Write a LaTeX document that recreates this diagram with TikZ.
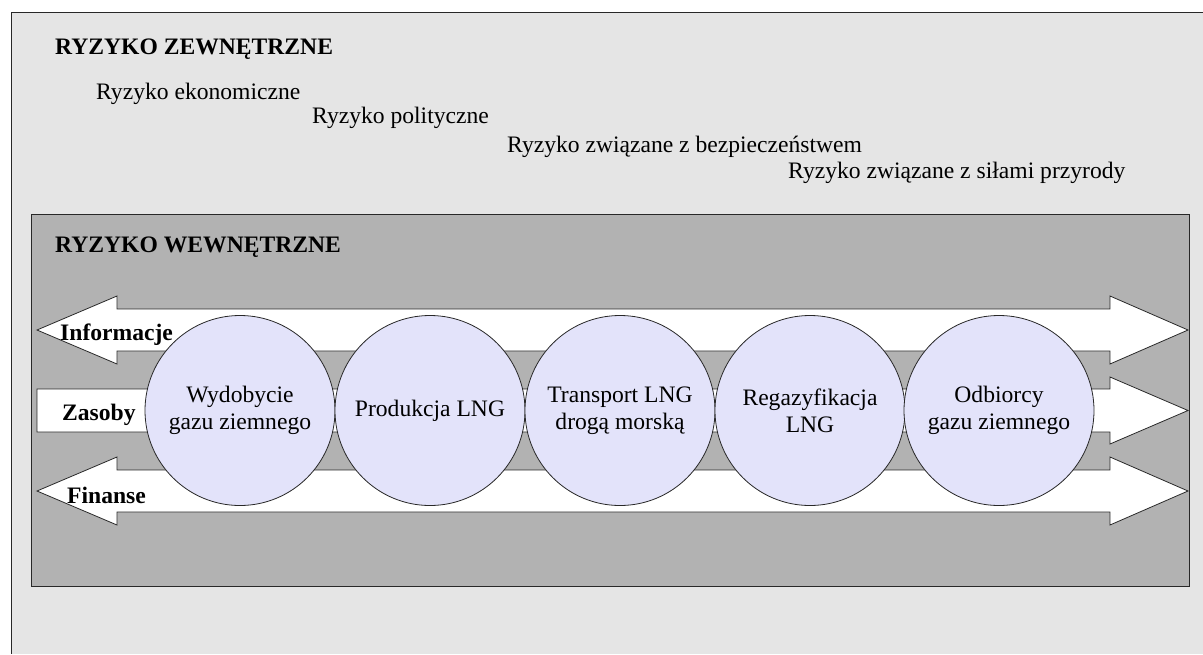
\documentclass[tikz,border=0pt]{standalone}
\usepackage{fontspec}
\setmainfont{Liberation Serif}
\usepackage{tikz}

\definecolor{outergray}{RGB}{229,229,229}
\definecolor{innergray}{RGB}{178,178,178}
\definecolor{stagefill}{RGB}{227,227,250}
\definecolor{edgegray}{RGB}{40,40,40}

\begin{document}
\begin{tikzpicture}[x=1pt,y=-1pt,
        every node/.style={font=\fontsize{23.6}{27}\selectfont},
        risktext/.style={anchor=base west, inner sep=0pt},
        headtext/.style={anchor=base west, inner sep=0pt,
            font=\fontsize{23.6}{27}\selectfont\bfseries},
        flow/.style={draw=edgegray, fill=white, line width=0.8pt},
        stage/.style={circle, draw=edgegray, fill=stagefill, line width=0.8pt,
            minimum size=190pt, inner sep=0pt, align=center}]
        \useasboundingbox (0,0) rectangle (1203,654);

        % Outer box
        \fill[outergray] (11,12) rectangle (1203,654);
        \draw[edgegray, line width=0.8pt] (1203,12) -- (11,12) -- (11,654);
        \node[headtext] (zewn) at (55,54) {RYZYKO ZEWNĘTRZNE};

        % External risks
        \foreach \x/\y/\txt [count=\i] in {96/99/{Ryzyko ekonomiczne},
            312/123/{Ryzyko polityczne},
            507/152/{Ryzyko związane z bezpieczeństwem},
            788/178/{Ryzyko związane z siłami przyrody}}
            \node[risktext] (risk\i) at (\x,\y) {\txt};

        % Inner box
        \draw[fill=innergray, draw=edgegray, line width=0.8pt] (31,214) rectangle (1189,586);
        \node[headtext] (wewn) at (55,252) {RYZYKO WEWNĘTRZNE};

        % Flows
        \foreach \y in {330,491}
            \draw[flow] (37,\y) -- (117,\y-34) -- (117,\y-21) -- (1110,\y-21)
                -- (1110,\y-34) -- (1188,\y) -- (1110,\y+34) -- (1110,\y+21)
                -- (117,\y+21) -- (117,\y+34) -- cycle;
        \draw[flow] (37,389) -- (1110,389) -- (1110,377) -- (1188,410.5)
            -- (1110,444) -- (1110,432) -- (37,432) -- cycle;

        % Chain stages
        \foreach \x/\name/\txt in {240/wydobycie/{Wydobycie\\gazu ziemnego},
            430/produkcja/{Produkcja LNG},
            620/transport/{Transport LNG\\drogą morską},
            810/regazyfikacja/{Regazyfikacja\\LNG},
            999/odbiorcy/{Odbiorcy\\gazu ziemnego}}
            \node[stage] (\name) at (\x,410.5) {\txt};

        % Labels
        \node[headtext] (informacje) at (60,340) {Informacje};
        \node[headtext] (zasoby) at (62,420) {Zasoby};
        \node[headtext] (finanse) at (67,503) {Finanse};
    \end{tikzpicture}
\end{document}
